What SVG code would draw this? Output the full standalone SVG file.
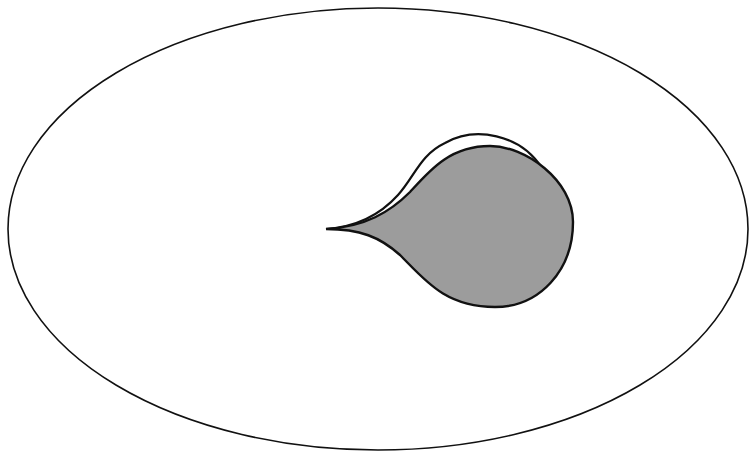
<svg xmlns="http://www.w3.org/2000/svg" width="752" height="454" viewBox="0 0 752 454">
<style>
.outline{fill:none;stroke:#111;stroke-width:1.6}
.drop{fill:#9c9c9c;stroke:#111;stroke-width:2.4;stroke-linejoin:miter}
.ghost{fill:none;stroke:#111;stroke-width:2.2}
</style>
<rect width="752" height="454" fill="#fff"/>
<g id="boundary"><ellipse class="outline" cx="378" cy="229" rx="370" ry="221"/></g>
<g id="ghost"><path class="ghost" d="M326,229 C355,227 380,215 398,195 C415,176 420,155 445,143 C475,126 520,134 542,168"/></g>
<g id="drop"><path class="drop" d="M326,229 C365,227 390,212 410,192 C430,170 450,146 490,146 C525,146 573,180 573,222 C573,270 540,307 495,307 C445,307 425,280 400,255 C380,237 360,229 326,229 Z"/></g>
</svg>
